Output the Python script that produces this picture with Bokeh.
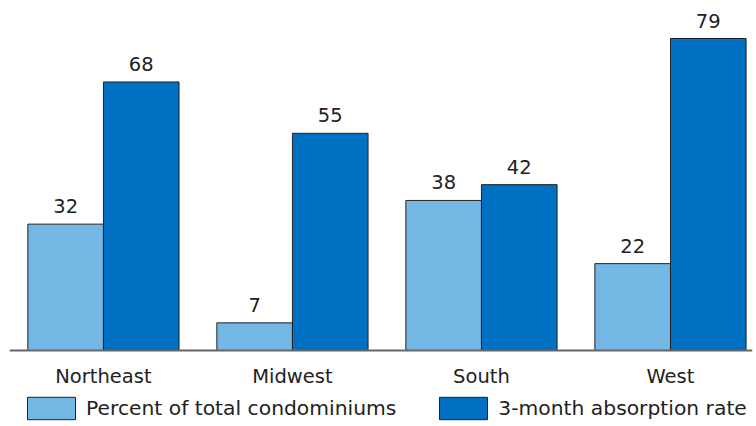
from bokeh.plotting import figure
from bokeh.models import ColumnDataSource, Range1d, LabelSet, Legend, LegendItem, Span
from bokeh.core.properties import value
from bokeh.embed import file_html
from bokeh.resources import INLINE

regions = ["Northeast", "Midwest", "South", "West"]
pct_total = [32, 7, 38, 22]
absorption = [68, 55, 42, 79]
series_names = ["Percent of total condominiums", "3-month absorption rate"]
colors = ["#74B6E4", "#0070C3"]

FONT = "DejaVu Sans"
FS = "19.5px"

p = figure(frame_width=743, frame_height=418, output_backend="svg", toolbar_location=None,
           x_range=Range1d(-0.497, 3.434), y_range=Range1d(-19.24, 86.6),
           min_border_left=9, min_border_right=4, min_border_top=8, min_border_bottom=0)
p.outline_line_color = None
p.grid.visible = False
p.axis.visible = False

idx = list(range(len(regions)))
src1 = ColumnDataSource(dict(x=[i - 0.2 for i in idx], top=pct_total, lab=[str(v) for v in pct_total]))
src2 = ColumnDataSource(dict(x=[i + 0.2 for i in idx], top=absorption, lab=[str(v) for v in absorption]))
src_cat = ColumnDataSource(dict(x=idx, y=[0] * len(idx), lab=regions))

r1 = p.vbar(x="x", top="top", width=0.4, source=src1, fill_color=colors[0], line_color="#222222", line_width=1)
r2 = p.vbar(x="x", top="top", width=0.4, source=src2, fill_color=colors[1], line_color="#222222", line_width=1)

p.add_layout(Span(location=0, dimension="width", line_color="#666666", line_width=2))

for s in (src1, src2):
    p.add_layout(LabelSet(x="x", y="top", text="lab", source=s, text_align="center",
                          text_baseline="alphabetic", y_offset=11, text_font=value(FONT),
                          text_font_size=value(FS), text_color="#222222"))

p.add_layout(LabelSet(x="x", y="y", text="lab", source=src_cat, text_align="center",
                      text_baseline="alphabetic", y_offset=-32, text_font=value(FONT),
                      text_font_size=value(FS), text_color="#222222"))

legend = Legend(items=[LegendItem(label=series_names[0], renderers=[r1]),
                       LegendItem(label=series_names[1], renderers=[r2])],
                orientation="horizontal", location=(12, 4),
                glyph_width=60, glyph_height=28, label_height=22, label_standoff=5, spacing=37,
                padding=0, margin=0, border_line_color=None, background_fill_alpha=0,
                label_text_font=FONT, label_text_font_size="20.3px", label_text_color="#222222")
p.add_layout(legend, "center")

open("out.html", "w").write(file_html(p, INLINE))
